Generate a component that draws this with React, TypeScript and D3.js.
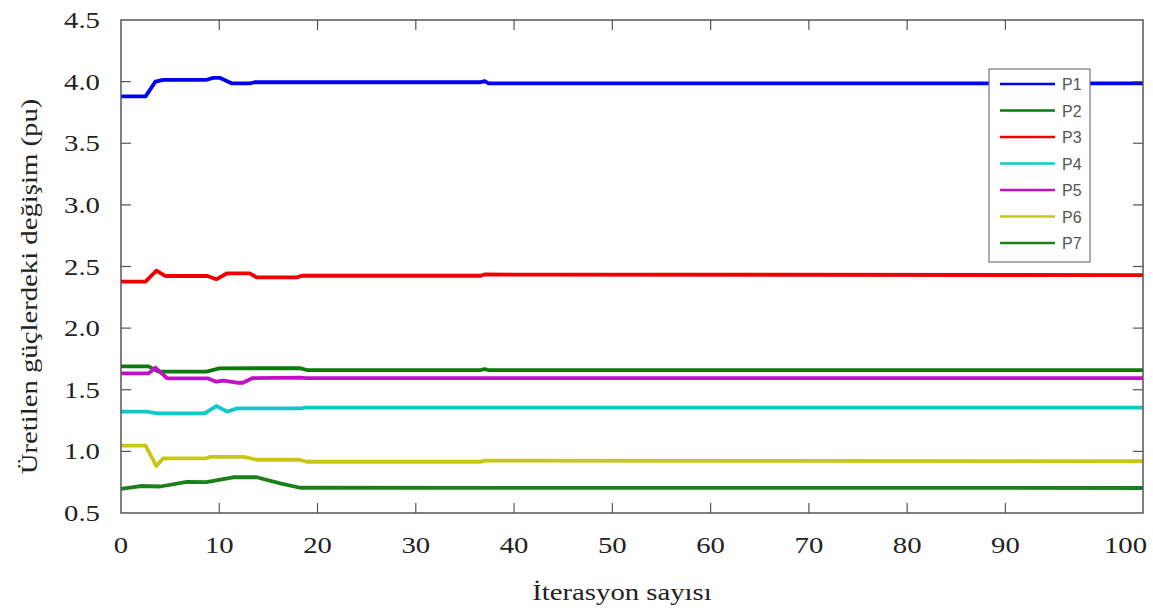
import React from "react";
import * as d3 from "d3";

const seriesNames = ["P1", "P2", "P3", "P4", "P5", "P6", "P7"];
const seriesColors = ["#0000ee", "#0a7a0a", "#ee0000", "#10c8c8", "#c010c8", "#c8c814", "#1a801a"];

// breakpoints: iteration, value
const p1Iter = [0, 2.5, 3.5, 4.3, 8.7, 9.4, 10.1, 11.3, 13.1, 13.6, 36.6, 37, 37.4, 104];
const p1Vals = [3.88, 3.88, 4.0, 4.015, 4.015, 4.03, 4.03, 3.985, 3.985, 3.995, 3.995, 4.005, 3.985, 3.985];

const p2Iter = [0, 2.8, 3.8, 8.7, 10, 18.2, 18.9, 36.6, 37, 37.4, 104];
const p2Vals = [1.69, 1.69, 1.647, 1.647, 1.674, 1.675, 1.66, 1.66, 1.668, 1.66, 1.66];

const p3Iter = [0, 2.5, 3.6, 4.5, 8.8, 9.7, 10.8, 13.1, 13.8, 17.9, 18.4, 36.6, 37, 104];
const p3Vals = [2.377, 2.377, 2.466, 2.423, 2.423, 2.396, 2.445, 2.445, 2.412, 2.412, 2.425, 2.425, 2.435, 2.43];

const p4Iter = [0, 2.6, 3.7, 8.5, 9.7, 10.8, 11.8, 18.2, 18.8, 104];
const p4Vals = [1.322, 1.322, 1.309, 1.309, 1.368, 1.322, 1.349, 1.349, 1.355, 1.355];

const p5Iter = [0, 2.8, 3.5, 4.7, 8.8, 9.7, 10.4, 11.8, 12.4, 13.4, 18.2, 18.8, 104];
const p5Vals = [1.633, 1.633, 1.679, 1.593, 1.593, 1.565, 1.575, 1.557, 1.557, 1.595, 1.598, 1.595, 1.595];

const p6Iter = [0, 2.5, 3.6, 4.3, 8.7, 9.1, 12.5, 13.8, 18.2, 18.9, 36.6, 37, 104];
const p6Vals = [1.046, 1.046, 0.881, 0.944, 0.944, 0.955, 0.955, 0.932, 0.932, 0.916, 0.916, 0.925, 0.92];

const p7Iter = [0, 2, 4, 6.7, 8.7, 11.4, 13.8, 16.2, 18.2, 104];
const p7Vals = [0.695, 0.719, 0.715, 0.752, 0.75, 0.79, 0.79, 0.741, 0.705, 0.703];

const allIters = [p1Iter, p2Iter, p3Iter, p4Iter, p5Iter, p6Iter, p7Iter];
const allVals = [p1Vals, p2Vals, p3Vals, p4Vals, p5Vals, p6Vals, p7Vals];

const xTicks = [0, 10, 20, 30, 40, 50, 60, 70, 80, 90];
const yTicks = [0.5, 1.0, 1.5, 2.0, 2.5, 3.0, 3.5, 4.0, 4.5];

export default function App() {
  const W = 1153, H = 610;
  const left = 121, right = 1143, top = 20, bottom = 513;
  const x = d3.scaleLinear().domain([0, 104]).range([left, right]);
  const y = d3.scaleLinear().domain([0.5, 4.5]).range([bottom, top]);
  const line = d3.line<[number, number]>().x(d => x(d[0])).y(d => y(d[1]));
  const frame = "#555";
  const serif = "'Liberation Serif', 'Times New Roman', serif";
  const sans = "'Liberation Sans', Arial, sans-serif";
  const sx = 1.25;

  const lgX = 989, lgY = 69, lgW = 101, lgH = 193, rowH = 26.5;

  const T = (props: { x: number; y: number; anchor: string; size: number; text: string; rot?: boolean }) => (
    <text
      transform={props.rot
        ? `translate(${props.x}, ${props.y}) rotate(-90) scale(${sx},1)`
        : `translate(${props.x}, ${props.y}) scale(${sx},1)`}
      textAnchor={props.anchor}
      fontFamily={serif}
      fontSize={props.size}
      fill="#222"
    >{props.text}</text>
  );

  return (
    <svg width={W} height={H} style={{ position: "absolute", left: 0, top: 0 }}>
      <rect x={0} y={0} width={W} height={H} fill="#fff" />
      {allIters.map((it, k) => (
        <path
          key={k}
          d={line(it.map((v, j) => [v, allVals[k][j]] as [number, number])) || ""}
          fill="none"
          stroke={seriesColors[k]}
          strokeWidth={3.8}
          strokeLinejoin="round"
        />
      ))}
      <rect x={left} y={top} width={right - left} height={bottom - top} fill="none" stroke={frame} strokeWidth={1.5} />
      {xTicks.filter(t => t > 0).map(t => (
        <g key={"xt" + t}>
          <line x1={x(t)} x2={x(t)} y1={bottom} y2={bottom - 10} stroke={frame} strokeWidth={1.2} />
          <line x1={x(t)} x2={x(t)} y1={top} y2={top + 10} stroke={frame} strokeWidth={1.2} />
        </g>
      ))}
      {yTicks.filter(t => t > 0.5 && t < 4.5).map(t => (
        <g key={"yt" + t}>
          <line x1={left} x2={left + 10} y1={y(t)} y2={y(t)} stroke={frame} strokeWidth={1.2} />
          <line x1={right} x2={right - 10} y1={y(t)} y2={y(t)} stroke={frame} strokeWidth={1.2} />
        </g>
      ))}
      {xTicks.map(t => (
        <T key={"xl" + t} x={x(t)} y={553} anchor="middle" size={23} text={String(t)} />
      ))}
      <T x={right + 4} y={553} anchor="end" size={23} text="100" />
      {yTicks.map(t => (
        <T key={"yl" + t} x={100} y={y(t) + 8} anchor="end" size={23} text={t.toFixed(1)} />
      ))}
      <T x={(left + right) / 2 - 10} y={600} anchor="middle" size={23} text="İterasyon sayısı" />
      <T x={37} y={(top + bottom) / 2 + 20} anchor="middle" size={23} text="Üretilen güçlerdeki değişim (pu)" rot />
      <rect x={lgX} y={lgY} width={lgW} height={lgH} fill="#fff" stroke="#777" strokeWidth={1.2} />
      {seriesNames.map((n, k) => (
        <g key={n}>
          <line x1={1000} x2={1055} y1={lgY + 15 + k * rowH} y2={lgY + 15 + k * rowH} stroke={seriesColors[k]} strokeWidth={2.5} />
          <text x={1062} y={lgY + 21 + k * rowH} fontFamily={sans} fontSize={16} fill="#555">{n}</text>
        </g>
      ))}
    </svg>
  );
}
